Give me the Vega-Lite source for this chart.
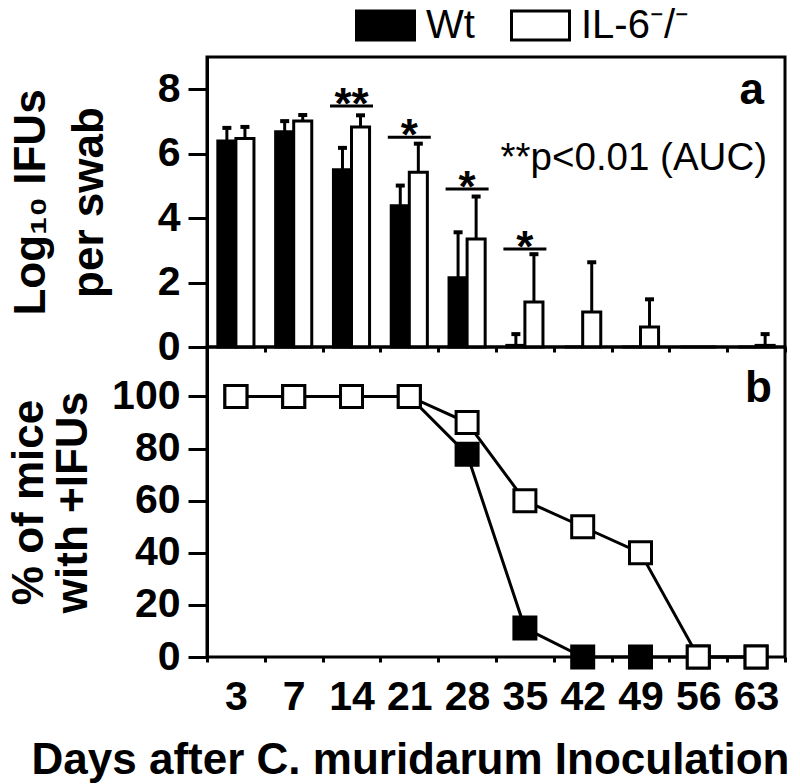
{
  "$schema": "https://vega.github.io/schema/vega-lite/v6.json",
  "background": "white",
  "padding": {"left": 6, "top": -5, "right": 14, "bottom": 5},
  "spacing": 0,
  "bounds": "flush",
  "datasets": {
    "bars": [
      {"day": 3, "group": "Wt", "value": 6.39, "upper": 6.80},
      {"day": 3, "group": "IL-6⁻/⁻", "value": 6.47, "upper": 6.83},
      {"day": 7, "group": "Wt", "value": 6.68, "upper": 7.01},
      {"day": 7, "group": "IL-6⁻/⁻", "value": 7.01, "upper": 7.20},
      {"day": 14, "group": "Wt", "value": 5.50, "upper": 6.18},
      {"day": 14, "group": "IL-6⁻/⁻", "value": 6.83, "upper": 7.19},
      {"day": 21, "group": "Wt", "value": 4.38, "upper": 5.01},
      {"day": 21, "group": "IL-6⁻/⁻", "value": 5.42, "upper": 6.31},
      {"day": 28, "group": "Wt", "value": 2.15, "upper": 3.56},
      {"day": 28, "group": "IL-6⁻/⁻", "value": 3.35, "upper": 4.67},
      {"day": 35, "group": "Wt", "value": 0.05, "upper": 0.40},
      {"day": 35, "group": "IL-6⁻/⁻", "value": 1.40, "upper": 2.88},
      {"day": 42, "group": "Wt", "value": 0, "upper": null},
      {"day": 42, "group": "IL-6⁻/⁻", "value": 1.09, "upper": 2.63},
      {"day": 49, "group": "Wt", "value": 0, "upper": null},
      {"day": 49, "group": "IL-6⁻/⁻", "value": 0.62, "upper": 1.48},
      {"day": 56, "group": "Wt", "value": 0, "upper": null},
      {"day": 56, "group": "IL-6⁻/⁻", "value": 0, "upper": null},
      {"day": 63, "group": "Wt", "value": 0, "upper": null},
      {"day": 63, "group": "IL-6⁻/⁻", "value": 0.05, "upper": 0.40}
    ],
    "sig": [
      {"day": 14, "y": 7.48, "label": "**"},
      {"day": 21, "y": 6.51, "label": "*"},
      {"day": 28, "y": 4.90, "label": "*"},
      {"day": 35, "y": 3.04, "label": "*"}
    ],
    "pct": [
      {"day": 3, "group": "Wt", "pct": 100},
      {"day": 7, "group": "Wt", "pct": 100},
      {"day": 14, "group": "Wt", "pct": 100},
      {"day": 21, "group": "Wt", "pct": 100},
      {"day": 28, "group": "Wt", "pct": 77.8},
      {"day": 35, "group": "Wt", "pct": 11.1},
      {"day": 42, "group": "Wt", "pct": 0},
      {"day": 49, "group": "Wt", "pct": 0},
      {"day": 56, "group": "Wt", "pct": 0},
      {"day": 63, "group": "Wt", "pct": 0},
      {"day": 3, "group": "IL-6⁻/⁻", "pct": 100},
      {"day": 7, "group": "IL-6⁻/⁻", "pct": 100},
      {"day": 14, "group": "IL-6⁻/⁻", "pct": 100},
      {"day": 21, "group": "IL-6⁻/⁻", "pct": 100},
      {"day": 28, "group": "IL-6⁻/⁻", "pct": 90},
      {"day": 35, "group": "IL-6⁻/⁻", "pct": 60},
      {"day": 42, "group": "IL-6⁻/⁻", "pct": 50},
      {"day": 49, "group": "IL-6⁻/⁻", "pct": 40},
      {"day": 56, "group": "IL-6⁻/⁻", "pct": 0},
      {"day": 63, "group": "IL-6⁻/⁻", "pct": 0}
    ]
  },
  "vconcat": [
    {
      "width": 578,
      "height": 290,
      "layer": [
        {
          "data": {"name": "bars"},
          "mark": {"type": "bar", "stroke": "black", "strokeWidth": 3},
          "encoding": {
            "x": {
              "field": "day", "type": "ordinal",
              "scale": {"paddingInner": 0, "paddingOuter": 0},
              "axis": {"labels": false, "title": null, "tickBand": "extent", "tickSize": 5, "domain": false}
            },
            "xOffset": {"field": "group", "type": "nominal", "sort": ["Wt", "IL-6⁻/⁻"], "scale": {"paddingInner": 0, "paddingOuter": 0.6}},
            "y": {
              "field": "value", "type": "quantitative",
              "scale": {"domain": [0, 9], "nice": false},
              "axis": {
                "values": [0, 1, 2, 3, 4, 5, 6, 7, 8],
                "labelExpr": "datum.value % 2 === 0 ? datum.label : ''",
                "tickSize": {"condition": {"test": "datum.value % 2 === 1", "value": 5}, "value": 19},
                "labelPadding": 8,
                "title": ["Log₁₀ IFUs", "per swab"],
                "titleLineHeight": 58,
                "titlePadding": 46
              }
            },
            "fill": {
              "field": "group", "type": "nominal",
              "scale": {"domain": ["Wt", "IL-6⁻/⁻"], "range": ["black", "white"]},
              "legend": {
                "title": null, "orient": "none", "direction": "horizontal",
                "legendX": 148, "legendY": -62,
                "symbolType": "M-1,-0.5H1V0.5H-1Z", "symbolSize": 3364,
                "symbolStrokeColor": "black", "symbolStrokeWidth": 3,
                "labelFontSize": 40, "labelFont": "Liberation Sans", "labelColor": "black",
                "labelOffset": 10, "columnPadding": 30, "labelLimit": 400
              }
            }
          }
        },
        {
          "data": {"name": "bars"},
          "transform": [{"filter": "datum.upper != null"}],
          "mark": {"type": "rule", "color": "black", "strokeWidth": 3},
          "encoding": {
            "x": {"field": "day", "type": "ordinal"},
            "xOffset": {"field": "group", "type": "nominal", "sort": ["Wt", "IL-6⁻/⁻"]},
            "y": {"field": "value", "type": "quantitative"},
            "y2": {"field": "upper"}
          }
        },
        {
          "data": {"name": "bars"},
          "transform": [{"filter": "datum.upper != null"}],
          "mark": {"type": "tick", "orient": "horizontal", "color": "black", "size": 9, "thickness": 4, "opacity": 1},
          "encoding": {
            "x": {"field": "day", "type": "ordinal"},
            "xOffset": {"field": "group", "type": "nominal", "sort": ["Wt", "IL-6⁻/⁻"]},
            "y": {"field": "upper", "type": "quantitative"}
          }
        },
        {
          "data": {"name": "sig"},
          "mark": {"type": "tick", "orient": "horizontal", "color": "black", "size": 43, "thickness": 3, "opacity": 1},
          "encoding": {
            "x": {"field": "day", "type": "ordinal"},
            "y": {"field": "y", "type": "quantitative"}
          }
        },
        {
          "data": {"name": "sig"},
          "mark": {"type": "text", "fontSize": 44, "fontWeight": "bold", "color": "black", "baseline": "alphabetic", "dy": 13, "font": "Liberation Sans"},
          "encoding": {
            "x": {"field": "day", "type": "ordinal"},
            "y": {"field": "y", "type": "quantitative"},
            "text": {"field": "label"}
          }
        },
        {
          "data": {"values": [{"day": 35, "y": 5.5, "label": "**p<0.01 (AUC)"}]},
          "mark": {"type": "text", "fontSize": 38.5, "color": "black", "align": "left", "baseline": "alphabetic", "font": "Liberation Sans"},
          "encoding": {
            "x": {"field": "day", "type": "ordinal", "bandPosition": 0.08},
            "y": {"field": "y", "type": "quantitative"},
            "text": {"field": "label"}
          }
        },
        {
          "data": {"values": [{"day": 63, "y": 7.53, "label": "a"}]},
          "mark": {"type": "text", "fontSize": 44, "fontWeight": "bold", "color": "black", "align": "right", "baseline": "alphabetic", "font": "Liberation Sans"},
          "encoding": {
            "x": {"field": "day", "type": "ordinal", "bandPosition": 0.637},
            "y": {"field": "y", "type": "quantitative"},
            "text": {"field": "label"}
          }
        }
      ]
    },
    {
      "width": 578,
      "height": 310,
      "layer": [
        {
          "data": {"name": "pct"},
          "mark": {"type": "line", "color": "black", "strokeWidth": 3},
          "encoding": {
            "x": {
              "field": "day", "type": "ordinal",
              "scale": {"paddingInner": 0, "paddingOuter": 0},
              "axis": {
                "labelAngle": 0, "tickBand": "extent", "tickSize": 5, "labelPadding": 15, "domain": false,
                "title": "Days after C. muridarum Inoculation",
                "titleFontSize": 44, "titlePadding": 21, "titleX": 203
              }
            },
            "y": {
              "field": "pct", "type": "quantitative",
              "scale": {"domain": [0, 119], "nice": false},
              "axis": {
                "values": [0, 20, 40, 60, 80, 100],
                "tickSize": 19, "labelPadding": 8,
                "title": ["% of mice", "with +IFUs"],
                "titleLineHeight": 44,
                "titlePadding": 16
              }
            },
            "detail": {"field": "group"}
          }
        },
        {
          "data": {"name": "pct"},
          "transform": [{"filter": "datum.group === 'Wt'"}],
          "mark": {"type": "point", "shape": "square", "size": 484, "filled": true, "fill": "black", "stroke": "black", "strokeWidth": 3, "opacity": 1},
          "encoding": {
            "x": {"field": "day", "type": "ordinal"},
            "y": {"field": "pct", "type": "quantitative"}
          }
        },
        {
          "data": {"name": "pct"},
          "transform": [{"filter": "datum.group !== 'Wt'"}],
          "mark": {"type": "point", "shape": "square", "size": 484, "filled": true, "fill": "white", "stroke": "black", "strokeWidth": 3, "opacity": 1},
          "encoding": {
            "x": {"field": "day", "type": "ordinal"},
            "y": {"field": "pct", "type": "quantitative"}
          }
        },
        {
          "data": {"values": [{"day": 63, "y": 98, "label": "b"}]},
          "mark": {"type": "text", "fontSize": 44, "fontWeight": "bold", "color": "black", "align": "right", "baseline": "alphabetic", "font": "Liberation Sans"},
          "encoding": {
            "x": {"field": "day", "type": "ordinal", "bandPosition": 0.775},
            "y": {"field": "y", "type": "quantitative"},
            "text": {"field": "label"}
          }
        }
      ]
    }
  ],
  "config": {
    "font": "Liberation Sans",
    "view": {"stroke": "black", "strokeWidth": 3},
    "axis": {
      "domainColor": "black", "domainWidth": 3,
      "tickColor": "black", "tickWidth": 3,
      "labelColor": "black", "titleColor": "black",
      "labelFont": "Liberation Sans", "titleFont": "Liberation Sans",
      "labelFontSize": 41, "labelFontWeight": "bold",
      "titleFontSize": 44, "titleFontWeight": "bold",
      "grid": false
    }
  }
}
